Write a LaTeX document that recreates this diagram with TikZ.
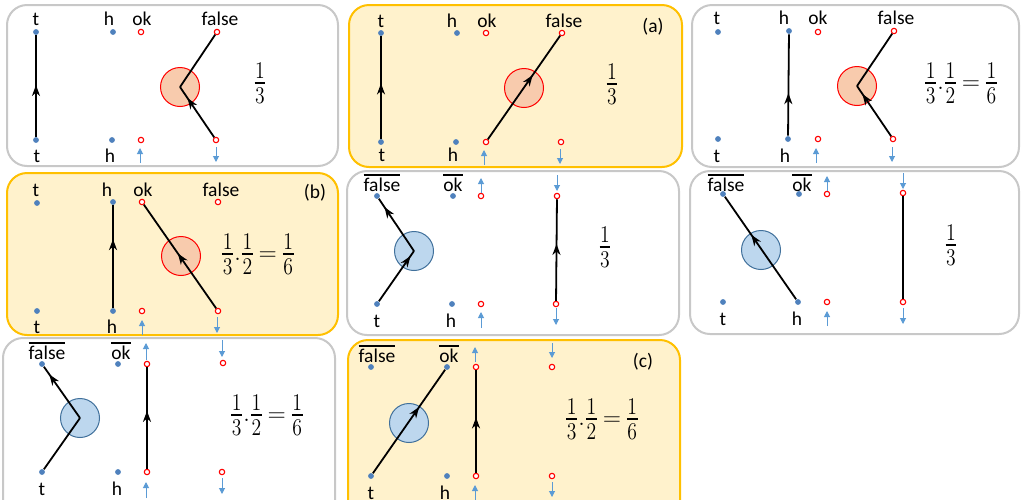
\documentclass[tikz,border=0pt]{standalone}
\usepackage{fontspec}
\usepackage{amsmath}
\usepackage{graphicx}
\setmainfont{Carlito}
\usetikzlibrary{arrows.meta,decorations.markings}
\definecolor{boxgray}{HTML}{C8C8C8}
\definecolor{boxgold}{HTML}{FFC000}
\definecolor{boxfill}{HTML}{FFF2CC}
\definecolor{dotblue}{HTML}{4F81BD}
\definecolor{peach}{HTML}{F8CBAD}
\definecolor{bcircfill}{HTML}{BDD7EE}
\definecolor{bcircdraw}{HTML}{41719C}
\definecolor{arrblue}{HTML}{5B9BD5}
\newcommand{\lblfont}{\fontsize{9.75}{11}\selectfont}
\newcommand{\fracfont}{\fontsize{11.5}{13}\selectfont}
\newcommand{\olbl}[1]{\vbox{\hrule height 0.8pt\kern0.9pt\hbox{#1}}}
\newcommand{\myfr}[2]{\vcenter{\setbox0=\hbox{\scalebox{0.82}[1]{$#1$}}\setbox2=\hbox{\scalebox{0.82}[1]{$#2$}}%
  \dimen0=\wd0 \ifdim\wd2>\dimen0 \dimen0=\wd2 \fi\advance\dimen0 by 0.6pt
  \hbox{\kern0.6pt\vbox{\hbox to\dimen0{\hfil\box0\hfil}\kern1.9pt\hrule height0.9pt\kern1.9pt\hbox to\dimen0{\hfil\box2\hfil}}\kern0.6pt}}}
\newcommand{\expr}{$\thickmuskip=3.5mu\myfr{1}{3}.\myfr{1}{2}=\myfr{1}{6}$}
\newcommand{\third}{$\myfr{1}{3}$}
\tikzset{
 graybox/.style={draw=boxgray, line width=1pt, rounded corners=10pt, fill=white},
 goldbox/.style={draw=boxgold, line width=1pt, rounded corners=10pt, fill=boxfill},
 lbl/.style={font=\lblfont, inner sep=0pt, anchor=base},
 tag/.style={font=\lblfont, inner sep=0pt},
 bdot/.style={circle, fill=dotblue, inner sep=0pt, minimum size=2.9pt},
 rdot/.style={circle, draw=red, fill=white, line width=0.55pt, inner sep=0pt, minimum size=2.7pt},
 rcirc/.style={circle, draw=red, fill=peach, line width=0.5pt, minimum size=19.5pt, inner sep=0pt},
 bcirc/.style={circle, draw=bcircdraw, fill=bcircfill, line width=0.5pt, minimum size=19.5pt, inner sep=0pt},
 blk/.style={line width=0.9pt, draw=black},
 midarr/.style={postaction={decorate}, decoration={markings, mark=at position #1 with {\arrow{Stealth[length=5.5pt,width=4pt,inset=1.7pt]}}}},
 barr/.style={draw=arrblue, line width=0.5pt, -{Triangle[length=3pt,width=3pt]}},
 frac/.style={font=\fracfont, inner sep=0pt},
}
\begin{document}
\begin{tikzpicture}[x=0.5pt,y=-0.5pt]
\useasboundingbox (0,0) rectangle (1022,499);
\clip (0,0) rectangle (1022,499);
\fill[white] (0,0) rectangle (1022,499);

% ---------- Panel 1 ----------
\draw[graybox] (7,5) rectangle (338,166);
\node[lbl] (p1l1) at (36,25) {t};
\node[lbl] (p1l2) at (109,25) {h};
\node[lbl] (p1l3) at (142,25) {ok};
\node[lbl] (p1l4) at (220,25) {false};
\node[lbl] (p1l5) at (37,162) {t};
\node[lbl] (p1l6) at (110,162) {h};
\node[rcirc] (p1c) at (180,87) {};
\node[bdot] (p1tt) at (36,32) {};
\node[bdot] (p1tb) at (36,140) {};
\node[bdot] (p1ht) at (113,32) {};
\node[bdot] (p1hb) at (112,140) {};
\node[rdot] (p1ot) at (141,32) {};
\node[rdot] (p1ob) at (141,140) {};
\node[rdot] (p1ft) at (217,32) {};
\node[rdot] (p1fb) at (216,140) {};
\coordinate (p1u1) at (140,163); \coordinate (p1u2) at (140,148);
\coordinate (p1d1) at (216,147); \coordinate (p1d2) at (216,162);
\draw[barr] (p1u1) -- (p1u2);
\draw[barr] (p1d1) -- (p1d2);
\draw[blk, midarr=0.78] (p1fb) -- (p1c.center);
\draw[blk] (p1c.center) -- (p1ft);
\draw[blk, midarr=0.51] (p1tb) -- (p1tt);
\node[frac] (p1q) at (260,83) {\third};

% ---------- Panel 2 (a) ----------
\draw[goldbox] (349,5) rectangle (682,167);
\node[lbl] (p2l1) at (381,27) {t};
\node[lbl] (p2l2) at (452,27) {h};
\node[lbl] (p2l3) at (487,27) {ok};
\node[lbl] (p2l4) at (564,27) {false};
\node[lbl] (p2l5) at (382,161) {t};
\node[lbl] (p2l6) at (453,161) {h};
\node[tag] (p2a) at (653,27) {(a)};
\node[rcirc] (p2c) at (524,88) {};
\node[bdot] (p2tt) at (381,33) {};
\node[bdot] (p2tb) at (381,142) {};
\node[bdot] (p2ht) at (457,33) {};
\node[bdot] (p2hb) at (456,142) {};
\node[rdot] (p2ot) at (486,33) {};
\node[rdot] (p2ob) at (486,142) {};
\node[rdot] (p2ft) at (562,33) {};
\node[rdot] (p2fb) at (561,142) {};
\coordinate (p2u1) at (484,165); \coordinate (p2u2) at (484,150);
\coordinate (p2d1) at (560,149); \coordinate (p2d2) at (560,164);
\draw[barr] (p2u1) -- (p2u2);
\draw[barr] (p2d1) -- (p2d2);
\draw[blk, midarr=0.62] (p2ob) -- (p2ft);
\draw[blk, midarr=0.54] (p2tb) -- (p2tt);
\node[frac] (p2q) at (612,84) {\third};

% ---------- Panel 3 ----------
\draw[graybox] (692,5) rectangle (1019,167);
\node[lbl] (p3l1) at (717,24) {t};
\node[lbl] (p3l2) at (784,24) {h};
\node[lbl] (p3l3) at (818,24) {ok};
\node[lbl] (p3l4) at (896,24) {false};
\node[lbl] (p3l5) at (717,162) {t};
\node[lbl] (p3l6) at (785,162) {h};
\node[rcirc] (p3c) at (857,86) {};
\node[bdot] (p3tt) at (718,32) {};
\node[bdot] (p3tb) at (718,139) {};
\node[bdot] (p3ht) at (789,31) {};
\node[bdot] (p3hb) at (788,139) {};
\node[rdot] (p3ot) at (818,32) {};
\node[rdot] (p3ob) at (818,139) {};
\node[rdot] (p3ft) at (894,31) {};
\node[rdot] (p3fb) at (893,139) {};
\coordinate (p3u1) at (816,163); \coordinate (p3u2) at (816,148);
\coordinate (p3d1) at (892,147); \coordinate (p3d2) at (892,162);
\draw[barr] (p3u1) -- (p3u2);
\draw[barr] (p3d1) -- (p3d2);
\draw[blk, midarr=0.84] (p3fb) -- (p3c.center);
\draw[blk] (p3c.center) -- (p3ft);
\draw[blk, midarr=0.42] (p3hb) -- (p3ht);
\node[frac] (p3q) at (961,83) {\expr};

% ---------- Panel 4 (b) ----------
\draw[goldbox] (7,173) rectangle (338,335);
\node[lbl] (p4l1) at (36,196) {t};
\node[lbl] (p4l2) at (107,196) {h};
\node[lbl] (p4l3) at (143,196) {ok};
\node[lbl] (p4l4) at (221,196) {false};
\node[lbl] (p4l5) at (37,333) {t};
\node[lbl] (p4l6) at (112,333) {h};
\node[tag] (p4b) at (315,193) {(b)};
\node[rcirc] (p4c) at (181,256) {};
\node[bdot] (p4tt) at (37,203) {};
\node[bdot] (p4tb) at (37,311) {};
\node[bdot] (p4ht) at (113,202) {};
\node[bdot] (p4hb) at (113,311) {};
\node[rdot] (p4ot) at (142,202) {};
\node[rdot] (p4ob) at (142,311) {};
\node[rdot] (p4ft) at (218,202) {};
\node[rdot] (p4fb) at (218,311) {};
\coordinate (p4u1) at (142,335); \coordinate (p4u2) at (142,320);
\coordinate (p4d1) at (217,317); \coordinate (p4d2) at (217,333);
\draw[barr] (p4u1) -- (p4u2);
\draw[barr] (p4d1) -- (p4d2);
\draw[blk, midarr=0.53] (p4fb) -- (p4ot);
\draw[blk, midarr=0.67] (p4hb) -- (p4ht);
\node[frac] (p4q) at (258,254) {\expr};

% ---------- Panel 5 ----------
\draw[graybox] (347,171) rectangle (679,335);
\node[lbl] (p5l1) at (382,191) {\olbl{false}};
\node[lbl] (p5l2) at (453,191) {\olbl{ok}};
\node[lbl] (p5l5) at (377,327) {t};
\node[lbl] (p5l6) at (451,327) {h};
\node[bcirc] (p5c) at (414,251) {};
\node[bdot] (p5tt) at (377,196) {};
\node[bdot] (p5tb) at (377,304) {};
\node[bdot] (p5ht) at (453,196) {};
\node[bdot] (p5hb) at (452,304) {};
\node[rdot] (p5ot) at (481,196) {};
\node[rdot] (p5ob) at (481,304) {};
\node[rdot] (p5ft) at (557,196) {};
\node[rdot] (p5fb) at (556,304) {};
\coordinate (p5u1) at (481,193); \coordinate (p5u2) at (481,178);
\coordinate (p5u3) at (481,328); \coordinate (p5u4) at (481,312);
\coordinate (p5d1) at (557,175); \coordinate (p5d2) at (557,191);
\coordinate (p5d3) at (556,308); \coordinate (p5d4) at (556,325);
\draw[barr] (p5u1) -- (p5u2);
\draw[barr] (p5u3) -- (p5u4);
\draw[barr] (p5d1) -- (p5d2);
\draw[barr] (p5d3) -- (p5d4);
\draw[blk, midarr=0.9] (p5tb) -- (p5c.center);
\draw[blk, midarr=0.84] (p5c.center) -- (p5tt);
\draw[blk, midarr=0.56] (p5fb) -- (p5ft);
\node[frac] (p5q) at (605,247) {\third};

% ---------- Panel 6 ----------
\draw[graybox] (690,171) rectangle (1019,334);
\node[lbl] (p6l1) at (726,191) {\olbl{false}};
\node[lbl] (p6l2) at (802,191) {\olbl{ok}};
\node[lbl] (p6l5) at (723,325) {t};
\node[lbl] (p6l6) at (797,325) {h};
\node[bcirc] (p6c) at (761,250) {};
\node[bdot] (p6tt) at (723,194) {};
\node[bdot] (p6tb) at (723,302) {};
\node[bdot] (p6ht) at (799,194) {};
\node[bdot] (p6hb) at (798,302) {};
\node[rdot] (p6ot) at (827,194) {};
\node[rdot] (p6ob) at (827,302) {};
\node[rdot] (p6ft) at (903,193) {};
\node[rdot] (p6fb) at (903,302) {};
\coordinate (p6u1) at (827,191); \coordinate (p6u2) at (827,176);
\coordinate (p6u3) at (827,326); \coordinate (p6u4) at (827,311);
\coordinate (p6d1) at (903,173); \coordinate (p6d2) at (903,189);
\coordinate (p6d3) at (903,308); \coordinate (p6d4) at (903,324);
\draw[barr] (p6u1) -- (p6u2);
\draw[barr] (p6u3) -- (p6u4);
\draw[barr] (p6d1) -- (p6d2);
\draw[barr] (p6d3) -- (p6d4);
\draw[blk, midarr=0.63] (p6hb) -- (p6tt);
\draw[blk] (p6fb) -- (p6ft);
\node[frac] (p6q) at (951,245) {\third};

% ---------- Panel 7 ----------
\draw[graybox] (3,338) rectangle (335,520);
\node[lbl] (p7l1) at (47,359) {\olbl{false}};
\node[lbl] (p7l2) at (121,359) {\olbl{ok}};
\node[lbl] (p7l5) at (42,495) {t};
\node[lbl] (p7l6) at (117,495) {h};
\node[bcirc] (p7c) at (80,418) {};
\node[bdot] (p7tt) at (42,364) {};
\node[bdot] (p7tb) at (42,472) {};
\node[bdot] (p7ht) at (118,364) {};
\node[bdot] (p7hb) at (118,472) {};
\node[rdot] (p7ot) at (147,364) {};
\node[rdot] (p7ob) at (147,472) {};
\node[rdot] (p7ft) at (223,363) {};
\node[rdot] (p7fb) at (222,472) {};
\coordinate (p7u1) at (146,360); \coordinate (p7u2) at (146,343);
\coordinate (p7u3) at (146,498); \coordinate (p7u4) at (146,482);
\coordinate (p7d1) at (222,340); \coordinate (p7d2) at (222,357);
\coordinate (p7d3) at (222,478); \coordinate (p7d4) at (222,494);
\draw[barr] (p7u1) -- (p7u2);
\draw[barr] (p7u3) -- (p7u4);
\draw[barr] (p7d1) -- (p7d2);
\draw[barr] (p7d3) -- (p7d4);
\draw[blk] (p7tb) -- (p7c.center);
\draw[blk, midarr=0.85] (p7c.center) -- (p7tt);
\draw[blk, midarr=0.57] (p7ob) -- (p7ot);
\node[frac] (p7q) at (267,415) {\expr};

% ---------- Panel 8 (c) ----------
\draw[goldbox] (348,340) rectangle (680,520);
\node[lbl] (p8l1) at (377,362) {\olbl{false}};
\node[lbl] (p8l2) at (449,362) {\olbl{ok}};
\node[lbl] (p8l5) at (371,499) {t};
\node[lbl] (p8l6) at (445,499) {h};
\node[tag] (p8cc) at (643,362) {(c)};
\node[bcirc] (p8c) at (409,423) {};
\node[bdot] (p8tt) at (371,367) {};
\node[bdot] (p8tb) at (371,476) {};
\node[bdot] (p8ht) at (447,367) {};
\node[bdot] (p8hb) at (447,476) {};
\node[rdot] (p8ot) at (476,367) {};
\node[rdot] (p8ob) at (476,476) {};
\node[rdot] (p8ft) at (552,367) {};
\node[rdot] (p8fb) at (552,476) {};
\coordinate (p8u1) at (475,362); \coordinate (p8u2) at (475,347);
\coordinate (p8u3) at (475,500); \coordinate (p8u4) at (475,485);
\coordinate (p8d1) at (552,343); \coordinate (p8d2) at (552,358);
\coordinate (p8d3) at (552,482); \coordinate (p8d4) at (552,497);
\draw[barr] (p8u1) -- (p8u2);
\draw[barr] (p8u3) -- (p8u4);
\draw[barr] (p8d1) -- (p8d2);
\draw[barr] (p8d3) -- (p8d4);
\draw[blk, midarr=0.64] (p8tb) -- (p8ht);
\draw[blk, midarr=0.54] (p8ob) -- (p8ot);
\node[frac] (p8q) at (602,419) {\expr};
\end{tikzpicture}
\end{document}
